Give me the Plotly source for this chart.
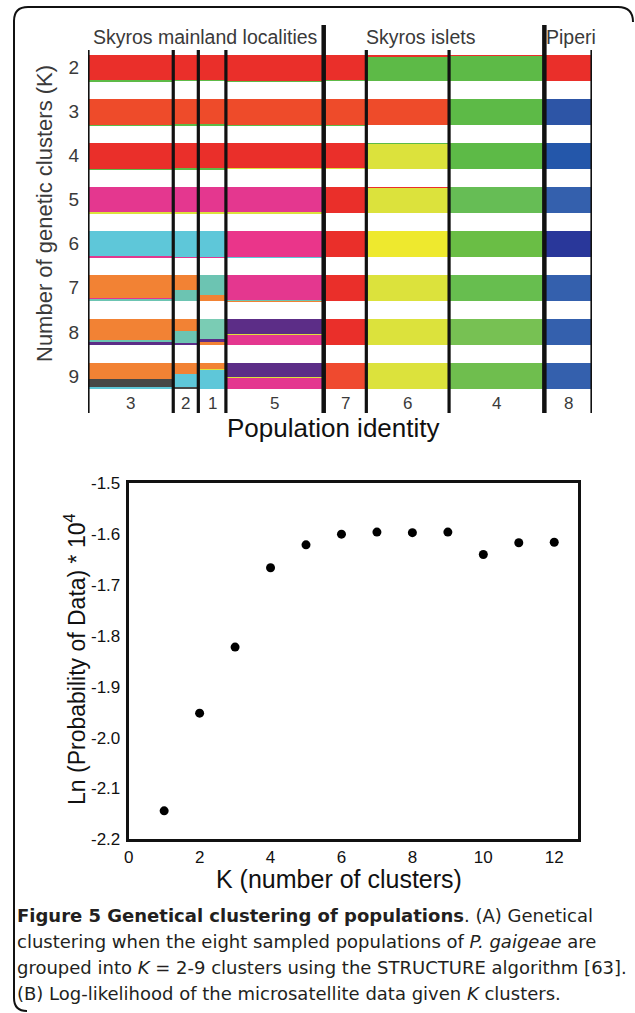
import plotly.graph_objects as go

W, H = 635, 1013


def px(x):
    return x / W


def py(y):
    return 1 - y / H


# ---------------- data: panel A (STRUCTURE membership) ----------------
populations = ["3", "2", "1", "5", "7", "6", "4", "8"]
n_individuals = [34, 10, 11, 39, 17, 33, 38, 19]
k_values = [2, 3, 4, 5, 6, 7, 8, 9]
region_labels = ["Skyros mainland localities", "Skyros islets", "Piperi"]

# cluster colours
RED = "#EA2F2A"
RED_OR = "#EE4B2A"
GREEN = "#5DBA47"
YELLOW = "#DCE23C"
YELLOW_B = "#EEE92E"
PINK = "#E4378F"
CYAN = "#5EC7D9"
ORANGE = "#F28234"
TEAL = "#6CC4B2"
PURPLE = "#5C2D87"
DGRAY = "#474747"
BLUE = "#3460AD"
BLUE3 = "#2D55A6"
BLUE4 = "#2457AA"
NAVY = "#29379A"

# membership per population (bottom -> top), fractions of each cluster
membership_k2 = [
    [(GREEN, 0.03), (RED, 0.97)], [(GREEN, 0.05), (RED, 0.95)],
    [(GREEN, 0.04), (RED, 0.96)], [(GREEN, 0.02), (RED, 0.98)],
    [(GREEN, 0.04), (RED, 0.96)], [(GREEN, 0.93), (RED, 0.07)],
    [(GREEN, 0.99), (RED, 0.01)], [(RED, 1.0)],
]
membership_k3 = [
    [(GREEN, 0.02), (RED_OR, 0.98)], [(GREEN, 0.03), (RED_OR, 0.97)],
    [(GREEN, 0.03), (RED_OR, 0.97)], [(GREEN, 0.01), (RED_OR, 0.99)],
    [(GREEN, 0.02), (RED_OR, 0.98)], [(RED_OR, 1.0)],
    [(GREEN, 1.0)], [(BLUE3, 1.0)],
]
membership_k4 = [
    [(GREEN, 0.02), (RED, 0.98)], [(GREEN, 0.04), (RED, 0.96)],
    [(GREEN, 0.04), (RED, 0.96)], [(YELLOW, 0.05), (RED, 0.95)],
    [(YELLOW, 0.05), (RED, 0.95)], [(YELLOW, 0.97), (GREEN, 0.03)],
    [(GREEN, 1.0)], [(BLUE4, 1.0)],
]
membership_k5 = [
    [(YELLOW, 0.03), (PINK, 0.97)], [(YELLOW, 0.04), (PINK, 0.96)],
    [(YELLOW, 0.03), (PINK, 0.97)], [(YELLOW, 0.04), (PINK, 0.96)],
    [(RED, 1.0)], [(YELLOW, 0.97), (RED, 0.03)],
    [("#66BD55", 1.0)], [(BLUE, 1.0)],
]
membership_k6 = [
    [(PINK, 0.04), (CYAN, 0.96)], [(PINK, 0.02), (CYAN, 0.98)],
    [(PINK, 0.03), (CYAN, 0.97)], [(CYAN, 0.03), ("#EA358A", 0.97)],
    [(RED, 1.0)], [(YELLOW_B, 1.0)],
    [("#6ABE45", 1.0)], [(NAVY, 1.0)],
]
membership_k7 = [
    [(TEAL, 0.09), (PINK, 0.03), (ORANGE, 0.88)], [(TEAL, 0.45), (ORANGE, 0.55)],
    [(ORANGE, 0.25), (TEAL, 0.75)], [(ORANGE, 0.03), (TEAL, 0.02), (PINK, 0.95)],
    [(RED, 1.0)], [(YELLOW, 1.0)],
    [("#67BE4F", 1.0)], [(BLUE, 1.0)],
]
membership_k8 = [
    [(PURPLE, 0.15), (TEAL, 0.07), (ORANGE, 0.78)], [(PURPLE, 0.10), (TEAL, 0.45), (ORANGE, 0.45)],
    [(ORANGE, 0.15), (PURPLE, 0.08), ("#7ACCB4", 0.77)], [(PINK, 0.40), (YELLOW, 0.05), (PURPLE, 0.55)],
    [(RED, 1.0)], [(YELLOW, 1.0)],
    [("#77C153", 1.0)], [(BLUE, 1.0)],
]
membership_k9 = [
    [(CYAN, 0.10), (DGRAY, 0.30), (ORANGE, 0.60)], [(DGRAY, 0.10), (CYAN, 0.50), (ORANGE, 0.40)],
    [(CYAN, 0.75), (YELLOW, 0.05), (ORANGE, 0.20)], [(PINK, 0.45), (YELLOW, 0.04), (PURPLE, 0.51)],
    [("#EF4A2F", 1.0)], [(YELLOW, 1.0)],
    [("#6FBE4E", 1.0)], [(BLUE, 1.0)],
]
memberships = [membership_k2, membership_k3, membership_k4, membership_k5,
               membership_k6, membership_k7, membership_k8, membership_k9]

# ---------------- data: panel B (log-likelihood) ----------------
k_clusters = [1, 2, 3, 4, 5, 6, 7, 8, 9, 10, 11, 12]
ln_prob = [-2.144, -1.952, -1.822, -1.666, -1.621, -1.600,
           -1.596, -1.597, -1.596, -1.640, -1.617, -1.616]
y_ticks = [-2.2, -2.1, -2.0, -1.9, -1.8, -1.7, -1.6, -1.5]
x_ticks = [0, 2, 4, 6, 8, 10, 12]

caption_lines = [
    "<b>Figure 5 Genetical clustering of populations</b>. (A) Genetical",
    "clustering when the eight sampled populations of <i>P. gaigeae</i> are",
    "grouped into <i>K</i> = 2-9 clusters using the STRUCTURE algorithm [63].",
    "(B) Log-likelihood of the microsatellite data given <i>K</i> clusters.",
]

# ---------------- figure ----------------
fig = go.Figure()

starts = []
acc = 0
for n in n_individuals:
    starts.append(acc)
    acc += n
total_n = acc
bounds = starts + [total_n]

half = 0.295
for k, rows in zip(k_values, memberships):
    for i, segs in enumerate(rows):
        tot = sum(f for _, f in segs)
        bottom = k + half
        for color, frac in segs:
            hgt = frac / tot * 2 * half
            fig.add_trace(go.Bar(
                x=[starts[i] + n_individuals[i] / 2], width=[n_individuals[i]],
                base=[bottom - hgt], y=[hgt],
                marker=dict(color=color, line=dict(width=0)),
                xaxis="x", yaxis="y", showlegend=False, hoverinfo="skip"))
            bottom -= hgt

fig.add_trace(go.Scatter(
    x=k_clusters, y=ln_prob, mode="markers",
    marker=dict(color="black", size=9),
    xaxis="x2", yaxis="y2", showlegend=False, hoverinfo="skip"))

shapes = []
# population separators (index 4 and 7 are the region separators)
for j, b in enumerate(bounds):
    big = j in (4, 7)
    top = 25 if big else 50
    shapes.append(dict(type="line", xref="x", yref="paper", x0=b, x1=b,
                       y0=py(413), y1=py(top),
                       line=dict(color="#111111", width=4.5 if big else 3.2),
                       layer="above"))

# outer rounded frame
frame = (f"M {px(633)},{py(22)} Q {px(633)},{py(7)} {px(618)},{py(7)} "
         f"L {px(28)},{py(7)} Q {px(14)},{py(7)} {px(14)},{py(21)} "
         f"L {px(14)},{py(998)} Q {px(14)},{py(1011)} {px(27)},{py(1011)}")
shapes.append(dict(type="path", xref="paper", yref="paper", path=frame,
                   line=dict(color="#111111", width=2)))

annotations = []
TXT = "#3a3a3a"
FONT = "Liberation Sans, Arial"
# region headers
for label, b, shift in zip(region_labels, [bounds[0], bounds[5], bounds[7]], [3, -2, 0]):
    annotations.append(dict(text=label, xref="x", yref="paper", x=b, y=py(37),
                            xanchor="left", yanchor="middle", xshift=shift,
                            showarrow=False,
                            font=dict(family=FONT, size=19.5, color=TXT)))
# population ids
for i, p in enumerate(populations):
    annotations.append(dict(text=p, xref="x", yref="paper",
                            x=starts[i] + n_individuals[i] / 2, y=py(403),
                            xanchor="center", yanchor="middle", showarrow=False,
                            font=dict(family=FONT, size=17, color=TXT)))
annotations.append(dict(text="Population identity", xref="paper", yref="paper",
                        x=px(333), y=py(428), xanchor="center", yanchor="middle",
                        showarrow=False,
                        font=dict(family=FONT, size=26, color="#111111")))
annotations.append(dict(text="Number of genetic clusters (K)", xref="paper", yref="paper",
                        x=px(44), y=py(214), xanchor="center", yanchor="middle",
                        textangle=-90, showarrow=False,
                        font=dict(family=FONT, size=22, color=TXT)))
# panel B titles
annotations.append(dict(text="K (number of clusters)", xref="paper", yref="paper",
                        x=px(339), y=py(879), xanchor="center", yanchor="middle",
                        showarrow=False,
                        font=dict(family=FONT, size=25, color="#111111")))
annotations.append(dict(text="Ln (Probability of Data) * 10<sup>4</sup>", xref="paper",
                        yref="paper", x=px(75), y=py(659), xanchor="center",
                        yanchor="middle", textangle=-90, showarrow=False,
                        font=dict(family=FONT, size=23, color="#111111")))
# caption
for j, line in enumerate(caption_lines):
    annotations.append(dict(text=line, xref="paper", yref="paper",
                            x=px(15), y=py(915 + 26 * j), xanchor="left",
                            yanchor="middle", showarrow=False,
                            font=dict(family="DejaVu Sans", size=18, color="#231F20")))

fig.update_layout(
    width=W, height=H, margin=dict(l=0, r=0, t=0, b=0, autoexpand=False),
    paper_bgcolor="white", plot_bgcolor="white",
    barmode="overlay", bargap=0,
    shapes=shapes, annotations=annotations,
    xaxis=dict(domain=[px(88), px(592)], range=[0, total_n], visible=False,
               anchor="y", fixedrange=True),
    yaxis=dict(domain=[py(398), py(45.5)], range=[9.5, 1.5], anchor="x",
               tickvals=k_values, ticktext=[str(k) for k in k_values],
               ticks="", ticklabelstandoff=8, showgrid=False, zeroline=False,
               showline=False, automargin=False,
               tickfont=dict(family=FONT, size=19, color=TXT)),
    xaxis2=dict(domain=[px(128.7), px(578)], range=[0, 12.67], anchor="y2",
                tickvals=x_ticks, ticktext=[str(v) for v in x_ticks],
                ticks="", showgrid=False, automargin=False,
                zeroline=False, showline=True, mirror=True, linewidth=3,
                linecolor="#111111",
                tickfont=dict(family=FONT, size=17, color="#111111")),
    yaxis2=dict(domain=[py(839.3), py(483.3)], range=[-2.2, -1.5], anchor="x2",
                tickvals=y_ticks, ticktext=[f"{v:.1f}" for v in y_ticks],
                ticks="", ticklabelstandoff=2, showgrid=False, automargin=False,
                zeroline=False, showline=True, mirror=True, linewidth=3,
                linecolor="#111111",
                tickfont=dict(family=FONT, size=17, color="#111111")),
)

fig.write_html(
    "out.html",
    config={"displayModeBar": False},
    post_script="document.body.style.margin='0';document.body.style.overflow='hidden';",
)
